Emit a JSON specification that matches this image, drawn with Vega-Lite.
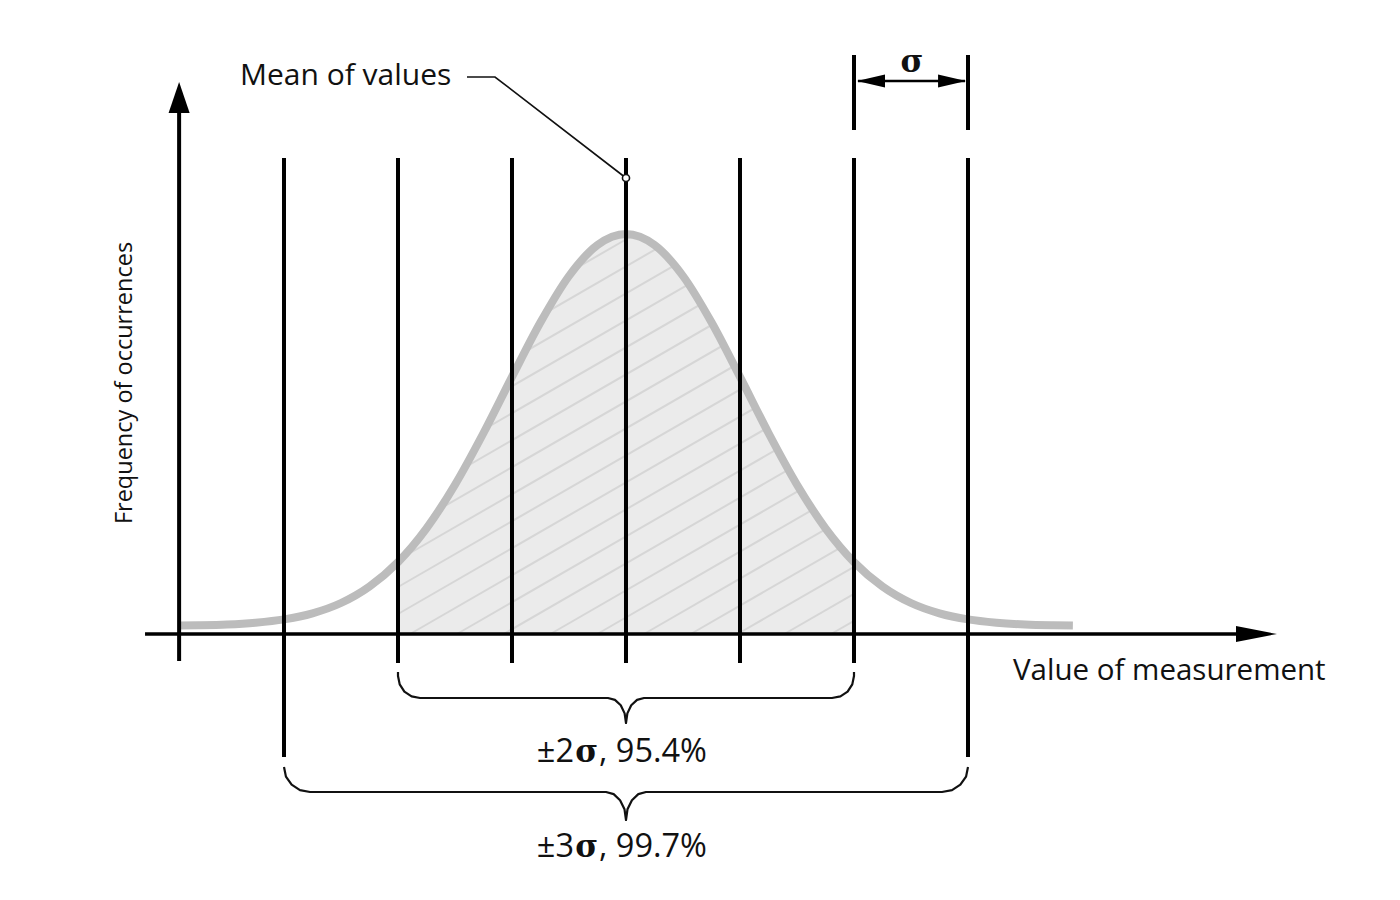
{
  "$schema": "https://vega.github.io/schema/vega-lite/v6.json",
  "width": 1400,
  "height": 900,
  "autosize": {"type": "fit", "contains": "padding"},
  "padding": 0,
  "background": "white",
  "config": {"view": {"stroke": null}},
  "datasets": {
    "curve": [
      {"x": -3.92, "y": 8.4}, {"x": -3.75, "y": 8.7}, {"x": -3.5, "y": 9.5}, {"x": -3.25, "y": 11.3},
      {"x": -3.0, "y": 14.6}, {"x": -2.75, "y": 20.7}, {"x": -2.5, "y": 31.0}, {"x": -2.25, "y": 47.5},
      {"x": -2.0, "y": 71.9}, {"x": -1.75, "y": 105.7}, {"x": -1.5, "y": 149.3}, {"x": -1.25, "y": 201.0},
      {"x": -1.0, "y": 257.1}, {"x": -0.75, "y": 311.7}, {"x": -0.5, "y": 358.0}, {"x": -0.25, "y": 389.0},
      {"x": 0, "y": 400},
      {"x": 0.25, "y": 389.0}, {"x": 0.5, "y": 358.0}, {"x": 0.75, "y": 311.7}, {"x": 1.0, "y": 257.1},
      {"x": 1.25, "y": 201.0}, {"x": 1.5, "y": 149.3}, {"x": 1.75, "y": 105.7}, {"x": 2.0, "y": 71.9},
      {"x": 2.25, "y": 47.5}, {"x": 2.5, "y": 31.0}, {"x": 2.75, "y": 20.7}, {"x": 3.0, "y": 14.6},
      {"x": 3.25, "y": 11.3}, {"x": 3.5, "y": 9.5}, {"x": 3.75, "y": 8.7}, {"x": 3.92, "y": 8.4}
    ],
    "shade": [
      {"x": -2.0, "y": 71.9}, {"x": -1.75, "y": 105.7}, {"x": -1.5, "y": 149.3}, {"x": -1.25, "y": 201.0},
      {"x": -1.0, "y": 257.1}, {"x": -0.75, "y": 311.7}, {"x": -0.5, "y": 358.0}, {"x": -0.25, "y": 389.0},
      {"x": 0, "y": 400},
      {"x": 0.25, "y": 389.0}, {"x": 0.5, "y": 358.0}, {"x": 0.75, "y": 311.7}, {"x": 1.0, "y": 257.1},
      {"x": 1.25, "y": 201.0}, {"x": 1.5, "y": 149.3}, {"x": 1.75, "y": 105.7}, {"x": 2.0, "y": 71.9}
    ],
    "hatch": [
      {"x": 1.799, "y": 0, "x2": 2, "y2": 13.2},
      {"x": 1.389, "y": 0, "x2": 2, "y2": 40.2},
      {"x": 0.979, "y": 0, "x2": 2, "y2": 67.2},
      {"x": 0.568, "y": 0, "x2": 2, "y2": 94.2},
      {"x": 0.158, "y": 0, "x2": 2, "y2": 121.2},
      {"x": -0.252, "y": 0, "x2": 2, "y2": 148.2},
      {"x": -0.663, "y": 0, "x2": 2, "y2": 175.2},
      {"x": -1.073, "y": 0, "x2": 2, "y2": 202.2},
      {"x": -1.483, "y": 0, "x2": 2, "y2": 229.2},
      {"x": -1.894, "y": 0, "x2": 2, "y2": 256.2},
      {"x": -2, "y": 20, "x2": 2, "y2": 283.2},
      {"x": -2, "y": 47, "x2": 2, "y2": 310.2},
      {"x": -2, "y": 74, "x2": 2, "y2": 337.2},
      {"x": -2, "y": 101, "x2": 2, "y2": 364.2},
      {"x": -2, "y": 128, "x2": 2, "y2": 391.2},
      {"x": -2, "y": 155, "x2": 1.723, "y2": 400},
      {"x": -2, "y": 182, "x2": 1.313, "y2": 400},
      {"x": -2, "y": 209, "x2": 0.903, "y2": 400},
      {"x": -2, "y": 236, "x2": 0.492, "y2": 400},
      {"x": -2, "y": 263, "x2": 0.082, "y2": 400}
    ],
    "verticals": [
      {"x": -3, "y": -123, "y2": 476}, {"x": -2, "y": -29, "y2": 476}, {"x": -1, "y": -29, "y2": 476},
      {"x": 0, "y": -29, "y2": 476}, {"x": 1, "y": -29, "y2": 476}, {"x": 2, "y": -29, "y2": 476},
      {"x": 3, "y": -123, "y2": 476}, {"x": 2, "y": 504, "y2": 579}, {"x": 3, "y": 504, "y2": 579}
    ],
    "yaxis": [{"x": -3.92, "y": -27, "y2": 521}],
    "xaxis": [{"x": -4.219, "x2": 5.386, "y": 0}],
    "sigmaLine": [{"x": 2.035, "x2": 2.974, "y": 553}],
    "arrowUp": [{"x": -3.92, "y": 536.5}],
    "arrowRight": [{"x": 5.531, "y": 0}],
    "arrowSigL": [{"x": 2.149, "y": 553}],
    "arrowSigR": [{"x": 2.86, "y": 553}],
    "leader": [
      {"i": 0, "x": -1.395, "y": 557}, {"i": 1, "x": -1.149, "y": 557}, {"i": 2, "x": 0, "y": 456}
    ],
    "leaderDot": [{"x": 0, "y": 456}],
    "brace2": [
      {"i": 0, "x": -2.0, "y": -38}, {"i": 1, "x": -2.0, "y": -42}, {"i": 2, "x": -1.985, "y": -50.4},
      {"i": 3, "x": -1.944, "y": -57.6}, {"i": 4, "x": -1.881, "y": -62.3}, {"i": 5, "x": -1.807, "y": -64},
      {"i": 6, "x": -0.158, "y": -64}, {"i": 7, "x": -0.097, "y": -65.9}, {"i": 8, "x": -0.046, "y": -71.3},
      {"i": 9, "x": -0.012, "y": -79.4}, {"i": 10, "x": 0, "y": -89}, {"i": 11, "x": 0.012, "y": -79.4},
      {"i": 12, "x": 0.046, "y": -71.3}, {"i": 13, "x": 0.097, "y": -65.9}, {"i": 14, "x": 0.158, "y": -64},
      {"i": 15, "x": 1.807, "y": -64}, {"i": 16, "x": 1.881, "y": -62.3}, {"i": 17, "x": 1.944, "y": -57.6},
      {"i": 18, "x": 1.985, "y": -50.4}, {"i": 19, "x": 2.0, "y": -42}, {"i": 20, "x": 2.0, "y": -38}
    ],
    "brace3": [
      {"i": 0, "x": -3.0, "y": -133}, {"i": 1, "x": -2.983, "y": -142.6}, {"i": 2, "x": -2.933, "y": -150.7},
      {"i": 3, "x": -2.86, "y": -156.1}, {"i": 4, "x": -2.772, "y": -158}, {"i": 5, "x": -0.175, "y": -158},
      {"i": 6, "x": -0.108, "y": -160.1}, {"i": 7, "x": -0.052, "y": -166.2}, {"i": 8, "x": -0.013, "y": -175.3},
      {"i": 9, "x": 0, "y": -186}, {"i": 10, "x": 0.013, "y": -175.3}, {"i": 11, "x": 0.052, "y": -166.2},
      {"i": 12, "x": 0.108, "y": -160.1}, {"i": 13, "x": 0.175, "y": -158}, {"i": 14, "x": 2.772, "y": -158},
      {"i": 15, "x": 2.86, "y": -156.1}, {"i": 16, "x": 2.933, "y": -150.7}, {"i": 17, "x": 2.983, "y": -142.6},
      {"i": 18, "x": 3.0, "y": -133}
    ],
    "textMean": [
      {"x": -3.386, "y": 549, "text": "Mean of values"}
    ],
    "textValue": [
      {"x": 3.395, "y": -46, "text": "Value of measurement"}
    ],
    "pctLeft": [
      {"x": -0.237, "y": -128, "text": ", 95.4%"},
      {"x": -0.237, "y": -223, "text": ", 99.7%"}
    ],
    "pmRight": [
      {"x": -0.456, "y": -128, "text": "±2"},
      {"x": -0.456, "y": -223, "text": "±3"}
    ],
    "sigmas": [
      {"x": -0.346, "y": -128, "text": "σ"},
      {"x": -0.346, "y": -223, "text": "σ"},
      {"x": 2.509, "y": 562, "text": "σ"}
    ],
    "ytitle": [{"x": -4.333, "y": 251, "text": "Frequency of occurrences"}]
  },
  "encoding": {
    "x": {"field": "x", "type": "quantitative", "scale": {"domain": [-5.4912, 6.7895], "nice": false, "zero": false}, "axis": null},
    "y": {"field": "y", "type": "quantitative", "scale": {"domain": [-266, 634], "nice": false, "zero": false}, "axis": null}
  },
  "layer": [
    {
      "data": {"name": "shade"},
      "mark": {"type": "area", "interpolate": "monotone", "color": "#ebebeb", "opacity": 1},
      "encoding": {"y2": {"datum": 0}}
    },
    {
      "data": {"name": "hatch"},
      "mark": {"type": "rule", "color": "#d6d6d6", "strokeWidth": 2},
      "encoding": {"x2": {"field": "x2"}, "y2": {"field": "y2"}}
    },
    {
      "data": {"name": "shade"},
      "mark": {"type": "area", "interpolate": "monotone", "color": "white", "opacity": 1},
      "encoding": {"y2": {"datum": 410}}
    },
    {
      "data": {"name": "curve"},
      "mark": {"type": "line", "interpolate": "monotone", "color": "#bcbcbc", "strokeWidth": 8, "strokeCap": "butt"},
      "encoding": {}
    },
    {
      "data": {"name": "verticals"},
      "mark": {"type": "rule", "color": "#000000", "strokeWidth": 4},
      "encoding": {"y2": {"field": "y2"}}
    },
    {
      "data": {"name": "yaxis"},
      "mark": {"type": "rule", "color": "#000000", "strokeWidth": 4},
      "encoding": {"y2": {"field": "y2"}}
    },
    {
      "data": {"name": "xaxis"},
      "mark": {"type": "rule", "color": "#000000", "strokeWidth": 3.3},
      "encoding": {"x2": {"field": "x2"}}
    },
    {
      "data": {"name": "sigmaLine"},
      "mark": {"type": "rule", "color": "#000000", "strokeWidth": 2.5},
      "encoding": {"x2": {"field": "x2"}}
    },
    {
      "data": {"name": "arrowUp"},
      "mark": {"type": "point", "shape": "M0,-1L0.68,1L-0.68,1Z", "size": 961, "filled": true, "color": "#000000", "opacity": 1, "strokeWidth": 0}
    },
    {
      "data": {"name": "arrowRight"},
      "mark": {"type": "point", "shape": "M1,0L-1,-0.39L-1,0.39Z", "size": 1681, "filled": true, "color": "#000000", "opacity": 1, "strokeWidth": 0}
    },
    {
      "data": {"name": "arrowSigL"},
      "mark": {"type": "point", "shape": "M-1,0L1,-0.46L1,0.46Z", "size": 784, "filled": true, "color": "#000000", "opacity": 1, "strokeWidth": 0}
    },
    {
      "data": {"name": "arrowSigR"},
      "mark": {"type": "point", "shape": "M1,0L-1,-0.46L-1,0.46Z", "size": 784, "filled": true, "color": "#000000", "opacity": 1, "strokeWidth": 0}
    },
    {
      "data": {"name": "leader"},
      "mark": {"type": "line", "color": "#111111", "strokeWidth": 1.6},
      "encoding": {"order": {"field": "i", "type": "quantitative"}}
    },
    {
      "data": {"name": "leaderDot"},
      "mark": {"type": "point", "shape": "circle", "size": 50, "filled": false, "fill": "white", "stroke": "#111111", "strokeWidth": 1.6, "opacity": 1}
    },
    {
      "data": {"name": "brace2"},
      "mark": {"type": "line", "color": "#111111", "strokeWidth": 2.2, "strokeJoin": "round"},
      "encoding": {"order": {"field": "i", "type": "quantitative"}}
    },
    {
      "data": {"name": "brace3"},
      "mark": {"type": "line", "color": "#111111", "strokeWidth": 2.2, "strokeJoin": "round"},
      "encoding": {"order": {"field": "i", "type": "quantitative"}}
    },
    {
      "data": {"name": "textMean"},
      "mark": {"type": "text", "align": "left", "baseline": "alphabetic", "font": "Open Sans", "fontSize": 30, "color": "#111111"},
      "encoding": {"text": {"field": "text"}}
    },
    {
      "data": {"name": "textValue"},
      "mark": {"type": "text", "align": "left", "baseline": "alphabetic", "font": "Open Sans", "fontSize": 29.5, "color": "#111111"},
      "encoding": {"text": {"field": "text"}}
    },
    {
      "data": {"name": "pctLeft"},
      "mark": {"type": "text", "align": "left", "baseline": "alphabetic", "font": "Open Sans", "fontSize": 32.5, "color": "#111111"},
      "encoding": {"text": {"field": "text"}}
    },
    {
      "data": {"name": "pmRight"},
      "mark": {"type": "text", "align": "right", "baseline": "alphabetic", "font": "Open Sans", "fontSize": 32.5, "color": "#111111"},
      "encoding": {"text": {"field": "text"}}
    },
    {
      "data": {"name": "sigmas"},
      "mark": {"type": "text", "align": "center", "baseline": "alphabetic", "font": "DejaVu Serif", "fontWeight": "bold", "fontSize": 31, "color": "#111111"},
      "encoding": {"text": {"field": "text"}}
    },
    {
      "data": {"name": "ytitle"},
      "mark": {"type": "text", "align": "center", "baseline": "alphabetic", "angle": 270, "font": "Open Sans", "fontSize": 23.5, "color": "#111111"},
      "encoding": {"text": {"field": "text"}}
    }
  ]
}
